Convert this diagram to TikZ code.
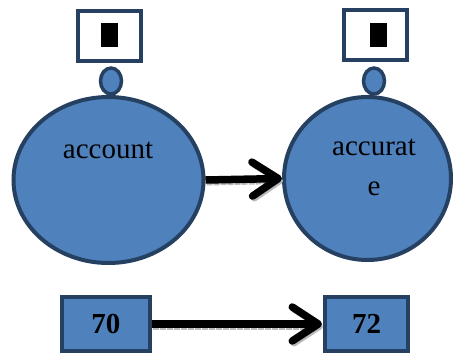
\documentclass[tikz,border=0pt]{standalone}
\usepackage{fontspec}
\setmainfont{Liberation Serif}
\usetikzlibrary{shapes.geometric,arrows.meta}

\definecolor{wordblue}{HTML}{4F81BD}
\definecolor{wordedge}{HTML}{254061}

\tikzset{
  wordcell/.style={ellipse, draw=wordedge, fill=wordblue, line width=4pt, inner sep=0pt},
  knob/.style={ellipse, draw=wordedge, fill=wordblue, line width=3.5pt,
    minimum width=21pt, minimum height=26pt, inner sep=0pt},
  tagbox/.style={rectangle, draw=wordedge, fill=white, line width=4pt,
    minimum width=63pt, minimum height=50pt, inner sep=0pt},
  tofu/.style={rectangle, fill=black, minimum width=17pt, minimum height=24pt, inner sep=0pt},
  numbox/.style={rectangle, draw=wordedge, fill=wordblue, line width=4pt,
    minimum height=54pt, inner sep=0pt, font=\fontsize{29}{32}\selectfont\bfseries},
  wordtext/.style={font=\fontsize{29}{40}\selectfont, align=center, anchor=base, inner sep=0pt},
  bigarrow/.style={-{Straight Barb[length=26pt,width=34pt,round]}, line width=7.5pt, black,
    preaction={draw=gray!55, densely dotted, line width=6pt,
      transform canvas={shift={(1pt,-2.5pt)}}}}
}

\begin{document}
\begin{tikzpicture}[x=1pt, y=-1pt]
    \useasboundingbox (0,0) rectangle (459,354);

    % Tags above the two words
    \node[tagbox] (tagL) at (109.5,36) {};
    \node[tofu] (tofuL) at (109.5,35) {};
    \node[tagbox] (tagR) at (375,35) {};
    \node[tofu] (tofuR) at (378,35) {};

    % Small knobs on top of the ellipses
    \node[knob] (knobL) at (111,81) {};
    \node[knob] (knobR) at (374,81) {};

    % The two words
    \node[wordcell, minimum width=190pt, minimum height=166pt] (acct) at (108.5,180) {};
    \node[wordcell, minimum width=167pt, minimum height=163pt] (accr) at (367.5,178.5) {};
    \node[wordtext] (acctText) at (108,158) {account};
    \node[wordtext] (accrText) at (374,195) {accurat\\e};

    % Values below
    \node[numbox, minimum width=88pt] (v70) at (106,324) {70};
    \node[numbox, minimum width=83pt] (v72) at (366.5,324) {72};

    % Arrows
    \draw[bigarrow] (acct.east) -- (accr.west);
    \draw[bigarrow, shorten >=1pt] (v70.east) -- (v72.west);
\end{tikzpicture}
\end{document}
